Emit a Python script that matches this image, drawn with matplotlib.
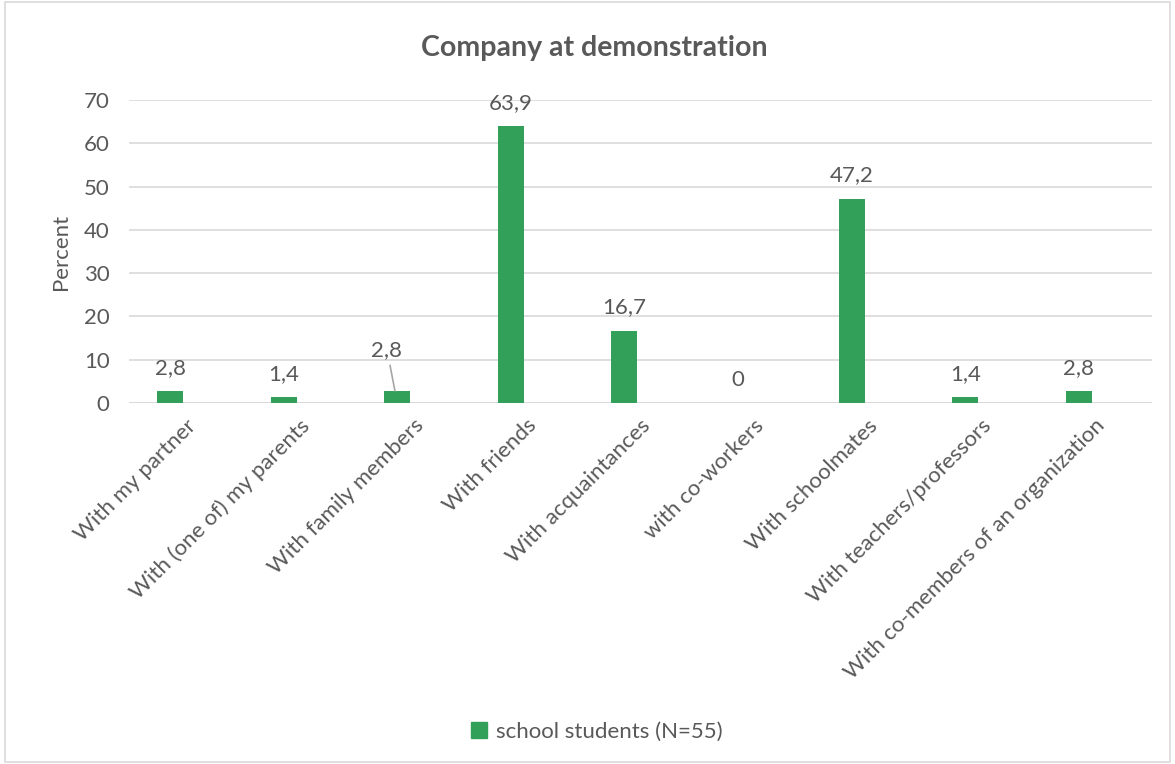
import matplotlib

matplotlib.use("Agg")
import matplotlib.pyplot as plt
from matplotlib.patches import Rectangle

categories = [
    "With my partner",
    "With (one of) my parents",
    "With family members",
    "With friends",
    "With acquaintances",
    "with co-workers",
    "With schoolmates",
    "With teachers/professors",
    "With co-members of an organization",
]
values = [2.8, 1.4, 2.8, 63.9, 16.7, 0, 47.2, 1.4, 2.8]
value_labels = ["2,8", "1,4", "2,8", "63,9", "16,7", "0", "47,2", "1,4", "2,8"]
series_name = "school students (N=55)"

GREEN = "#33A05A"
TEXT = "#595959"
GRID = "#D9D9D9"
FS = 16

plt.rcParams["font.family"] = ["Lato", "DejaVu Sans"]

fig = plt.figure(figsize=(11.75, 7.64), dpi=100)
ax = fig.add_axes([0.1098, 0.4725, 0.8706, 0.3966])

x = list(range(len(categories)))
ax.bar(x, values, width=0.23, color=GREEN, zorder=3)

ax.set_xlim(-0.361, 8.644)
ax.set_ylim(0, 70)
ax.set_yticks(range(0, 71, 10))
ax.yaxis.grid(True, color=GRID, linewidth=1.2, zorder=0)
ax.tick_params(axis="y", length=0, labelsize=FS, labelcolor=TEXT, pad=14)
ax.tick_params(axis="x", length=0, labelsize=FS, labelcolor=TEXT, pad=9)
for s in ax.spines.values():
    s.set_visible(False)
ax.axhline(0, color=GRID, linewidth=1.2, zorder=2)

ax.set_xticks([i + 0.14 for i in x])
ax.set_xticklabels(categories, rotation=45, ha="right", rotation_mode="anchor")
ax.set_ylabel("Percent", fontsize=FS, color=TEXT, labelpad=9)

for i, (v, lab) in enumerate(zip(values, value_labels)):
    if i == 2:
        ax.annotate(lab, xy=(i - 0.02, v), xytext=(i - 0.09, v + 7.2),
                    ha="center", va="bottom", fontsize=FS, color=TEXT,
                    arrowprops=dict(arrowstyle="-", color="#A6A6A6", lw=1.2,
                                    shrinkA=2, shrinkB=0))
    else:
        ax.annotate(lab, xy=(i, v), xytext=(0, 9.5), textcoords="offset points",
                    ha="center", va="bottom", fontsize=FS, color=TEXT)

fig.text(0.506, 0.937, "Company at demonstration", ha="center", va="center",
         fontsize=20.5, fontweight="bold", color=TEXT)

ax.legend([Rectangle((0, 0), 1, 1, color=GREEN)], [series_name],
          loc="center", bbox_to_anchor=(0.508, 0.042), bbox_transform=fig.transFigure,
          frameon=False, fontsize=FS, handlelength=0.7, handleheight=0.7,
          handletextpad=0.4, labelcolor=TEXT)

fig.patches.append(Rectangle((0.004, 0.003), 0.992, 0.994, transform=fig.transFigure,
                             fill=False, edgecolor=GRID, linewidth=1.2))

fig.savefig("out.png", dpi=100)
